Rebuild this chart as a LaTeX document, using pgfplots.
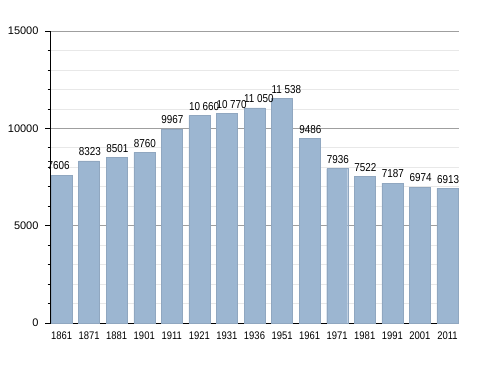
\documentclass[border=0pt]{standalone}
\usepackage{fontspec}
\setmainfont{Liberation Sans}
\newfontfamily\narrowfont[FakeStretch=0.86]{Liberation Sans}
\usepackage{pgfplots}
\pgfplotsset{compat=1.18}
\definecolor{barblue}{RGB}{156,182,209}
\begin{document}
\begin{tikzpicture}[font=\fontsize{11bp}{13bp}\selectfont]
\path[use as bounding box] (0,0) rectangle (488bp,373bp);
\begin{axis}[
  at={(50bp,50bp)}, anchor=south west,
  scale only axis, width=409bp, height=292bp,
  xmin=-0.42, xmax=14.42, ymin=0, ymax=15000,
  axis x line*=bottom, axis y line*=left,
  axis line style={black, line width=0.8bp, -},
  xtick={0,...,14},
  xticklabels={1861,1871,1881,1901,1911,1921,1931,1936,1951,1961,1971,1981,1991,2001,2011},
  xtick style={draw=none},
  xticklabel style={font=\narrowfont\fontsize{11bp}{13bp}\selectfont},
  ytick={0,5000,10000,15000},
  minor y tick num=4,
  tick align=outside,
  major tick length=5bp, minor tick length=2.5bp,
  ytick style={black, line width=0.6bp},
  minor tick style={black, line width=0.6bp},
  ymajorgrids, yminorgrids,
  major grid style={gray!75, line width=0.6bp},
  minor grid style={gray!18, line width=0.6bp},
  scaled y ticks=false,
  /pgf/number format/assume math mode=true,
  /pgf/number format/1000 sep={},
  yticklabel style={xshift=-3bp},
  ybar, bar width=21bp, bar shift=0pt,
  clip=false,
]
\addplot[fill=barblue, draw=barblue!92!black, line width=0.3bp,
  nodes near coords,
  nodes near coords style={anchor=south west, inner sep=0pt, xshift=-10.5bp, yshift=5bp, black,
    font=\narrowfont\fontsize{11.5bp}{13bp}\selectfont,
    /pgf/number format/1000 sep={\hspace{2.6bp}}, /pgf/number format/min exponent for 1000 sep=4}]
  coordinates {(1,8323) (2,8501) (3,8760) (4,9967) (5,10660) (6,10770) (7,11050) (8,11538) (9,9486) (10,7936) (11,7522) (12,7187) (13,6974) (14,6913)};
\addplot[fill=barblue, draw=barblue!92!black, line width=0.3bp,
  nodes near coords,
  nodes near coords style={anchor=south west, inner sep=0pt, xshift=-14bp, yshift=5bp, black,
    font=\narrowfont\fontsize{11.5bp}{13bp}\selectfont}]
  coordinates {(0,7606)};
\end{axis}
\end{tikzpicture}
\end{document}
